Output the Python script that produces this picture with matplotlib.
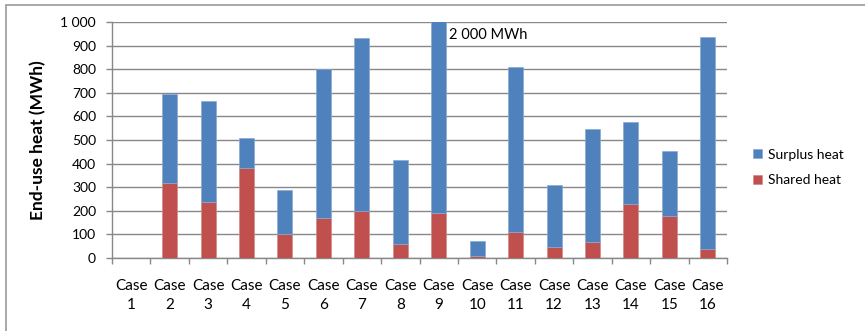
import numpy as np
import matplotlib
matplotlib.use("Agg")
import matplotlib.pyplot as plt
from matplotlib.ticker import FuncFormatter
from matplotlib.patches import Rectangle

plt.rcParams['font.family'] = ['Lato', 'DejaVu Sans']

cases = [f"Case\n{i}" for i in range(1, 17)]
# total end-use heat and the shared part of it (MWh)
total_heat = [0, 693, 665, 508, 287, 800, 932, 415, 2000, 71, 808, 311, 545, 576, 452, 936]
shared_heat = [0, 319, 237, 380, 103, 168, 199, 61, 189, 7, 111, 47, 66, 227, 176, 37]
surplus_heat = [t - s for t, s in zip(total_heat, shared_heat)]

blue = "#4F81BD"
red = "#C0504D"
grid_col = "#888888"

fig = plt.figure(figsize=(8.65, 3.31), dpi=100)
ax = fig.add_axes([0.1295, 0.2205, 0.711, 0.713])

x = np.arange(len(cases))
ax.bar(x, shared_heat, width=0.39, color=red, edgecolor="#D48A88", linewidth=0.5,
       label="Shared heat", zorder=3)
ax.bar(x, surplus_heat, width=0.39, bottom=shared_heat, color=blue, edgecolor="#8AAAD3",
       linewidth=0.5, label="Surplus heat", zorder=3)

ax.set_xlim(-0.5, len(cases) - 0.5)
ax.set_ylim(0, 1000)
ax.set_yticks(range(0, 1001, 100))
ax.yaxis.set_major_formatter(FuncFormatter(lambda v, p: f"{int(v):,}".replace(",", " ")))
ax.grid(axis="y", color=grid_col, linewidth=1.0, zorder=0)

# category labels centred, tick marks between categories
ax.set_xticks(x)
ax.set_xticklabels(cases, fontsize=11, linespacing=1.5)
ax.set_xticks(np.arange(-0.5, len(cases)), minor=True)
ax.tick_params(axis="x", which="major", length=0, pad=15)
ax.tick_params(axis="x", which="minor", length=4, color=grid_col, width=1)
ax.tick_params(axis="y", length=4.5, color=grid_col, width=1, pad=7, labelsize=10)

for side in ("top", "right"):
    ax.spines[side].set_visible(False)
for side in ("left", "bottom"):
    ax.spines[side].set_color(grid_col)
    ax.spines[side].set_linewidth(1.0)

ax.set_ylabel("End-use heat (MWh)", fontsize=12.5, fontweight="bold", labelpad=10)

# case 9 runs off the scale, so its total is written next to it
ax.text(8.27, 945, f"{total_heat[8]:,} MWh".replace(",", " "), fontsize=10.5,
        va="center", ha="left", zorder=4)

handles, labels = ax.get_legend_handles_labels()
fig.legend(handles[::-1], labels[::-1], loc="center left", bbox_to_anchor=(0.856, 0.494),
           frameon=False, fontsize=10, handlelength=0.65, handleheight=0.65,
           handletextpad=0.45, labelspacing=1.0)

# chart frame, left and top edges
fig.patches.append(Rectangle((0.0075, -0.1), 1.2, 1.086, transform=fig.transFigure,
                             fill=False, edgecolor="#9A9A9A", linewidth=1.2))

fig.savefig("out.png", dpi=100)
